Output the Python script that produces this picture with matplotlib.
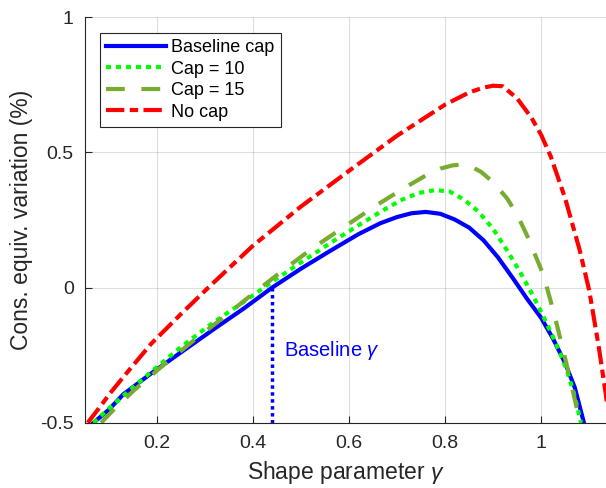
import matplotlib
matplotlib.use("Agg")
import matplotlib.pyplot as plt

plt.rcParams["font.family"] = ["Liberation Sans", "DejaVu Sans"]
plt.rcParams["mathtext.fontset"] = "custom"
plt.rcParams["mathtext.it"] = "Liberation Sans:italic"
plt.rcParams["mathtext.rm"] = "Liberation Sans"
plt.rcParams["axes.unicode_minus"] = False

# curves (gamma, CEV %)
base_x = [0.068, 0.100, 0.130, 0.190, 0.257, 0.320, 0.382, 0.440, 0.500, 0.560,
          0.620, 0.665, 0.700, 0.730, 0.760, 0.790, 0.820, 0.850, 0.880, 0.910,
          0.943, 0.970, 1.000, 1.025, 1.050, 1.070, 1.089]
base_y = [-0.500, -0.452, -0.395, -0.315, -0.231, -0.152, -0.076, 0.000, 0.070, 0.135,
          0.198, 0.238, 0.261, 0.275, 0.280, 0.273, 0.252, 0.222, 0.175, 0.112,
          0.030, -0.040, -0.112, -0.190, -0.280, -0.370, -0.500]

cap10_x = [0.068, 0.100, 0.140, 0.188, 0.250, 0.313, 0.375, 0.443, 0.510, 0.570,
           0.624, 0.670, 0.710, 0.745, 0.780, 0.810, 0.840, 0.870, 0.900, 0.930,
           0.957, 0.980, 1.000, 1.020, 1.040, 1.055, 1.068, 1.083]
cap10_y = [-0.500, -0.448, -0.385, -0.312, -0.220, -0.135, -0.060, 0.025, 0.105, 0.175,
           0.235, 0.285, 0.325, 0.350, 0.361, 0.355, 0.325, 0.280, 0.217, 0.135,
           0.055, -0.020, -0.090, -0.165, -0.245, -0.315, -0.390, -0.500]

cap15_x = [0.084, 0.110, 0.153, 0.216, 0.278, 0.341, 0.402, 0.464, 0.526, 0.596,
           0.662, 0.700, 0.731, 0.760, 0.790, 0.815, 0.835, 0.855, 0.875, 0.900,
           0.929, 0.950, 0.970, 0.990, 1.005, 1.026, 1.047, 1.067, 1.081]
cap15_y = [-0.500, -0.452, -0.379, -0.283, -0.194, -0.107, -0.020, 0.066, 0.148, 0.232,
           0.310, 0.352, 0.385, 0.415, 0.440, 0.452, 0.455, 0.447, 0.428, 0.390,
           0.330, 0.270, 0.195, 0.110, 0.045, -0.090, -0.240, -0.390, -0.500]

nocap_x = [0.056, 0.080, 0.103, 0.140, 0.188, 0.250, 0.310, 0.400, 0.500, 0.600,
           0.700, 0.800, 0.850, 0.880, 0.900, 0.920, 0.950, 0.980, 1.000, 1.020,
           1.050, 1.080, 1.100, 1.120, 1.135, 1.142]
nocap_y = [-0.500, -0.445, -0.390, -0.310, -0.208, -0.098, 0.005, 0.155, 0.300, 0.432,
           0.562, 0.677, 0.722, 0.740, 0.747, 0.745, 0.700, 0.628, 0.565, 0.485,
           0.330, 0.140, -0.010, -0.220, -0.400, -0.500]

baseline_gamma = 0.44
labels = ["Baseline cap", "Cap = 10", "Cap = 15", "No cap"]
xticks = [0.2, 0.4, 0.6, 0.8, 1.0]
xtick_labels = ["0.2", "0.4", "0.6", "0.8", "1"]
yticks = [-0.5, 0, 0.5, 1]
ytick_labels = ["-0.5", "0", "0.5", "1"]

dark = "#262626"

fig = plt.figure(figsize=(6.06, 4.88), dpi=100)
ax = fig.add_axes([0.140, 0.1338, 0.860, 0.8307])

lw = 3.0
ax.plot(base_x, base_y, color="#0000ff", lw=lw, ls="-", label=labels[0])
ax.plot(cap10_x, cap10_y, color="#00ff00", lw=lw, dashes=(1.2, 1.2),
        dash_capstyle="butt", label=labels[1])
ax.plot(cap15_x, cap15_y, color="#77ac30", lw=lw, dashes=(4.5, 4.0),
        dash_capstyle="butt", label=labels[2])
ax.plot(nocap_x, nocap_y, color="#ff0000", lw=lw, dashes=(4.4, 1.3, 2.0, 1.3),
        dash_capstyle="butt", label=labels[3])

ax.plot([baseline_gamma, baseline_gamma], [-0.5, 0.0], color="#0000ff", lw=2.5,
        dashes=(1, 1), dash_capstyle="butt")
ax.text(0.4655, -0.231, r"Baseline $\gamma$", color="#0000ff", fontsize=14.5,
        va="center", ha="left")

ax.set_xlim(0.05, 1.135)
ax.set_ylim(-0.5, 1.0)
ax.set_xticks(xticks, labels=xtick_labels)
ax.set_yticks(yticks, labels=ytick_labels)
ax.tick_params(axis="both", direction="in", length=5, width=0.8, colors=dark,
               labelsize=14)
ax.tick_params(axis="x", pad=9)
ax.tick_params(axis="y", pad=8)

ax.grid(True, color=dark, alpha=0.15, lw=0.8)
ax.set_axisbelow(True)
for side in ["top", "right"]:
    ax.spines[side].set_visible(False)
for side in ["left", "bottom"]:
    ax.spines[side].set_color(dark)
    ax.spines[side].set_linewidth(0.8)

ax.set_xlabel(r"Shape parameter $\gamma$", fontsize=16.5, color=dark, labelpad=5)
ax.set_ylabel("Cons. equiv. variation (%)", fontsize=16.5, color=dark, labelpad=5)

leg = ax.legend(loc="upper left", bbox_to_anchor=(0.029, 0.962), borderaxespad=0,
                fontsize=13, handlelength=3.3, handletextpad=0.3,
                labelspacing=0.25, borderpad=0.35, fancybox=False, framealpha=1)
leg.get_frame().set_edgecolor(dark)
leg.get_frame().set_linewidth(0.8)

fig.savefig("out.png", dpi=100)
